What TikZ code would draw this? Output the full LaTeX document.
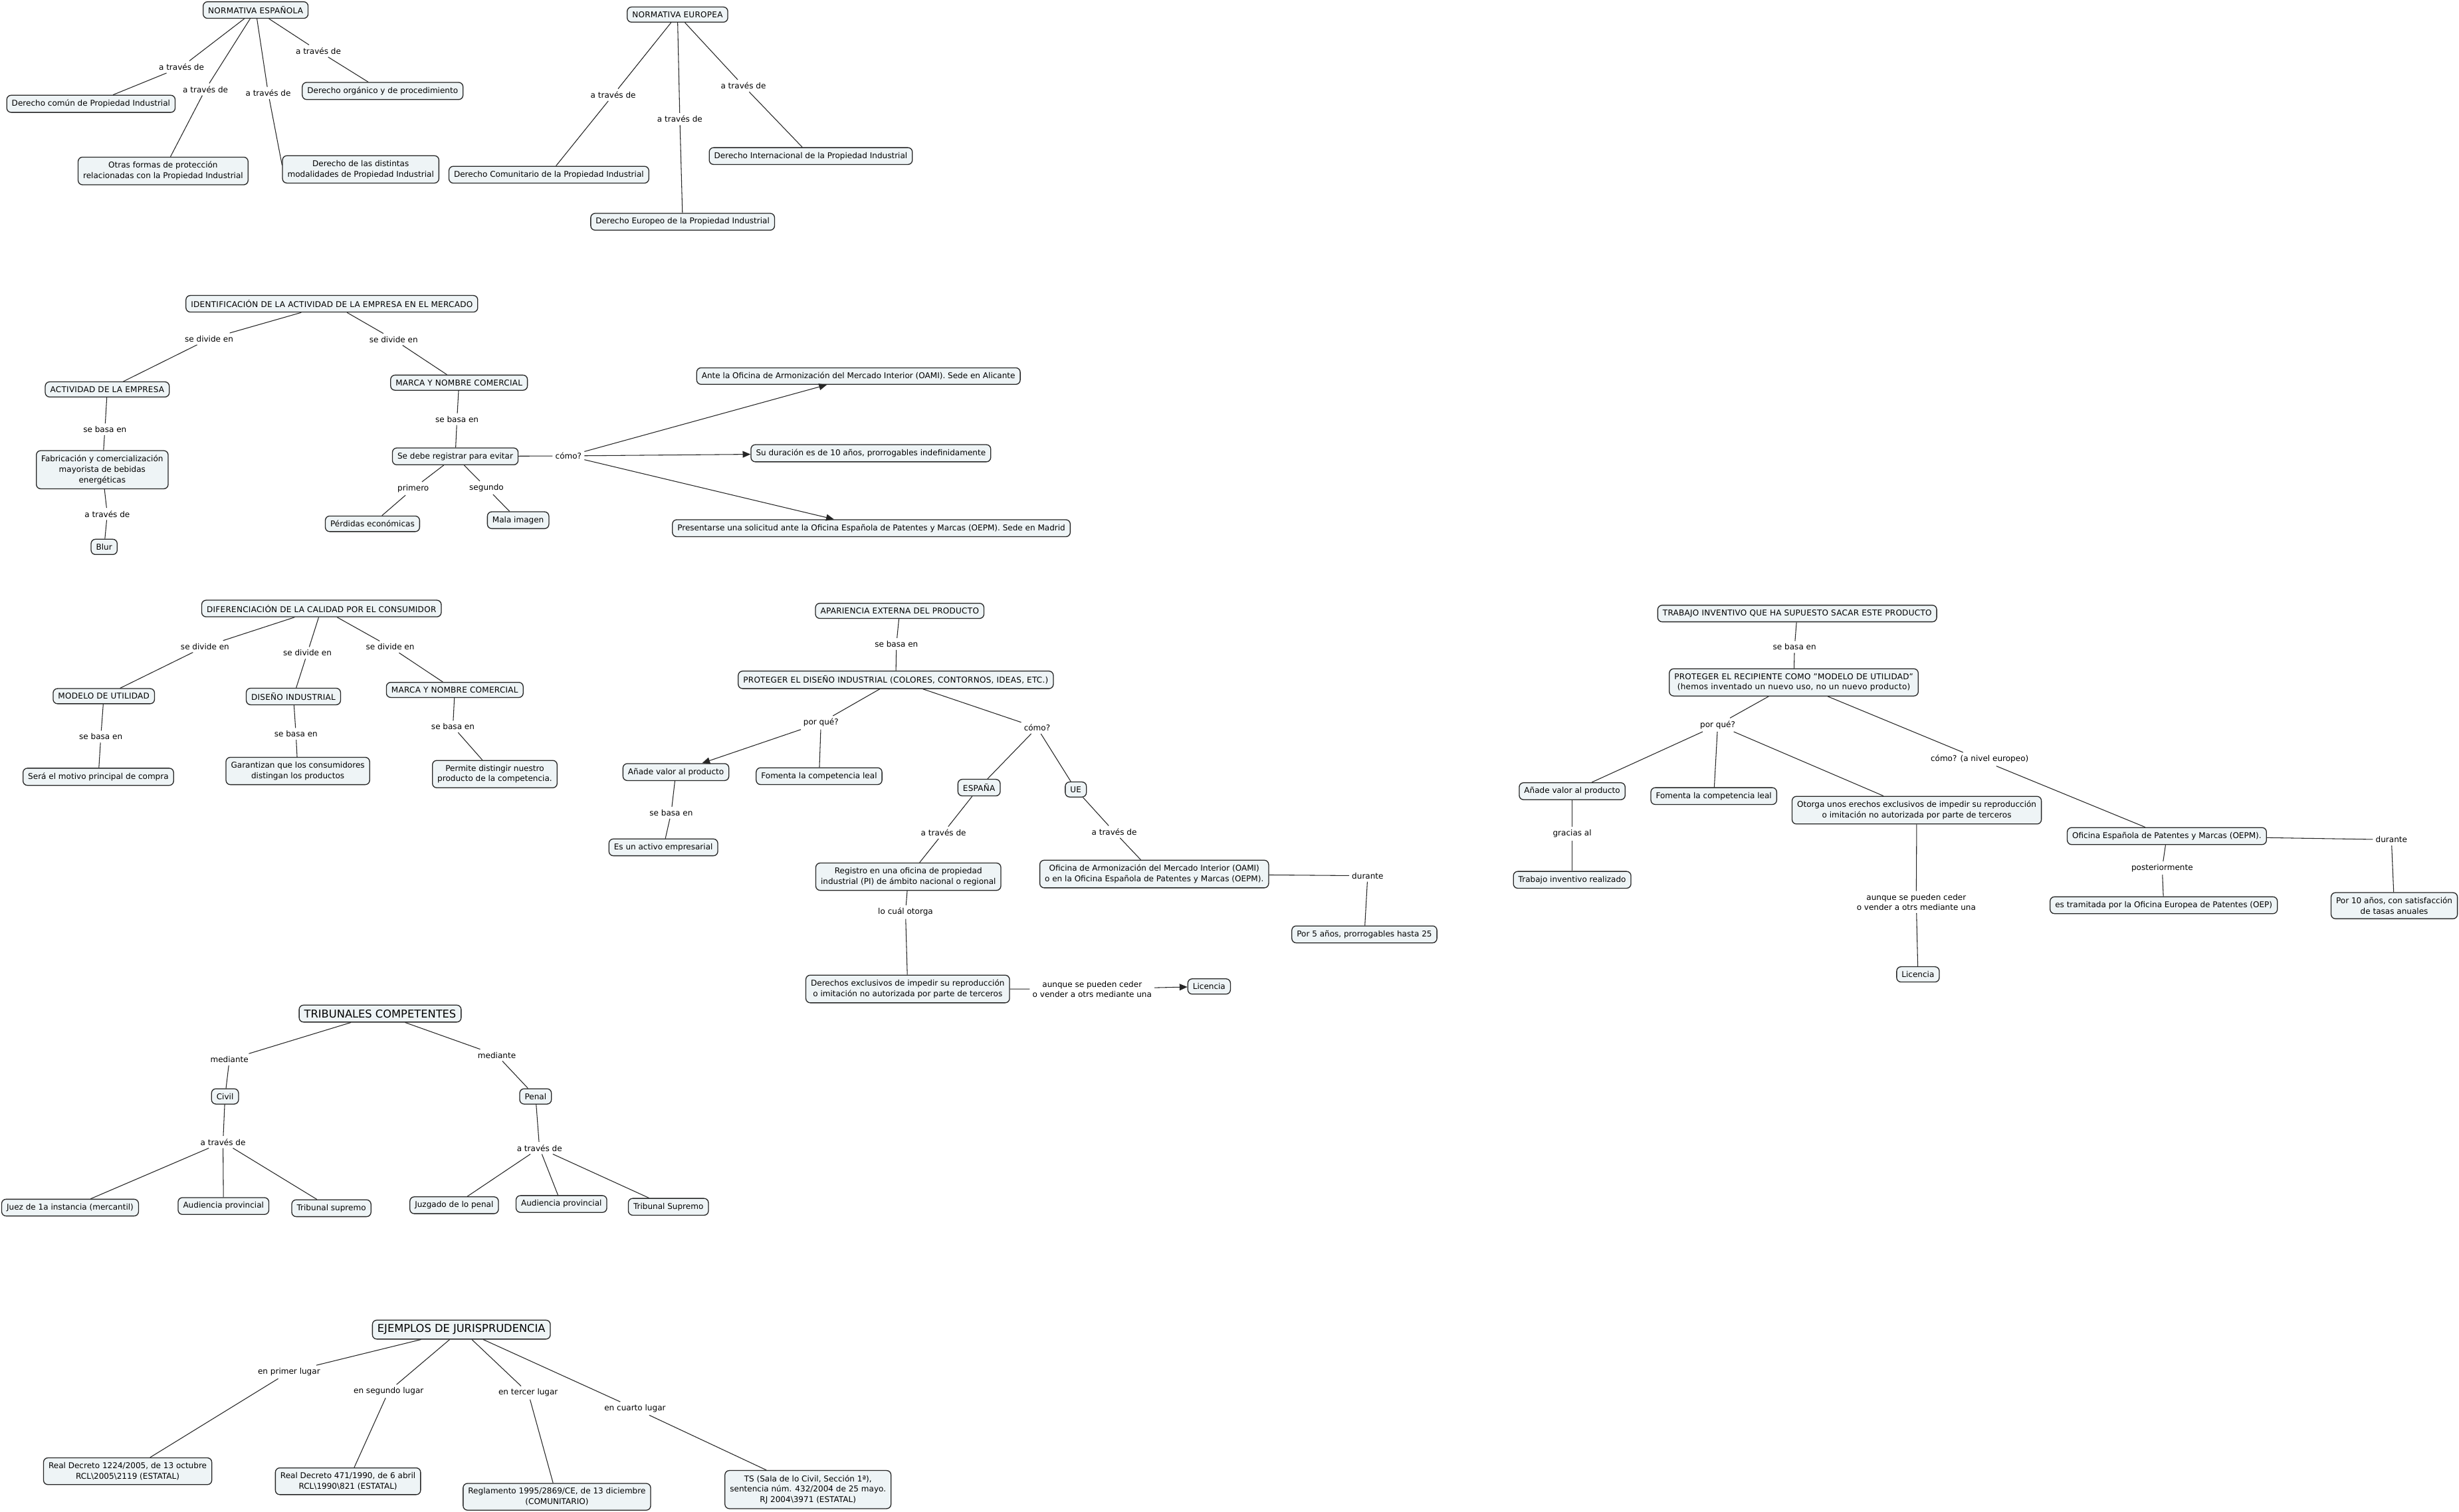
\documentclass[tikz,border=0pt]{standalone}
\usepackage{fontspec}
\setmainfont{DejaVu Sans}
\usetikzlibrary{arrows.meta}
\definecolor{boxfill}{RGB}{238,244,246}
\newcommand\mylink[3]{\draw[conn] (#1) -- (#2); \draw[conn] (#2) -- (#3);}
\newcommand\mylinka[3]{\draw[conn] (#1) -- (#2); \draw[arr] (#2) -- (#3);}
\begin{document}
\begin{tikzpicture}[x=1pt,y=-1pt,
  cbox/.style={draw=black!85, line width=0.55pt, fill=boxfill, rounded corners=2.8pt, inner xsep=3.2pt, inner ysep=2.9pt, align=center, font=\fontsize{5.1}{6.7}\selectfont},
  capbox/.style={cbox, font=\fontsize{5.1}{6.7}\selectfont\addfontfeature{LetterSpace=2.2}},
  tbox/.style={cbox, font=\fontsize{6.9}{8}\selectfont, inner ysep=2.8pt},
  lab/.style={inner sep=1.6pt, align=center, font=\fontsize{5.1}{6.5}\selectfont},
  conn/.style={draw=black!85, line width=0.45pt},
  arr/.style={conn, -{Triangle[length=5pt,width=4.2pt]}},
]
\useasboundingbox[fill=white] (0,0) rectangle (1568,964);

% ---------- Normativa espanola
\node[capbox] (ne) at (163,6.4) {NORMATIVA ESPAÑOLA};
\node[cbox] (comun) at (58,66.2) {Derecho común de Propiedad Industrial};
\node[cbox] (organico) at (244,58) {Derecho orgánico y de procedimiento};
\node[cbox] (otras) at (104,109) {Otras formas de protección\\relacionadas con la Propiedad Industrial};
\node[cbox] (distintas) at (230,108) {Derecho de las distintas\\modalidades de Propiedad Industrial};
\node[lab] (la1) at (115.7,42.7) {a través de};
\node[lab] (la2) at (131,57) {a través de};
\node[lab] (la3) at (171,59.3) {a través de};
\node[lab] (la4) at (203,32.5) {a través de};
\mylink{ne}{la1}{comun}
\mylink{ne}{la2}{otras}
\draw[conn] (ne) -- (la3); \draw[conn] (la3) -- (distintas.177);
\mylink{ne}{la4}{organico}

% ---------- Normativa europea
\node[capbox] (neu) at (432,9.3) {NORMATIVA EUROPEA};
\node[cbox] (comunit) at (350,111.4) {Derecho Comunitario de la Propiedad Industrial};
\node[cbox] (internac) at (517,99.5) {Derecho Internacional de la Propiedad Industrial};
\node[cbox] (europeo) at (435.3,141.4) {Derecho Europeo de la Propiedad Industrial};
\node[lab] (lb1) at (391,60.5) {a través de};
\node[lab] (lb2) at (433.5,75.9) {a través de};
\node[lab] (lb3) at (474,54.7) {a través de};
\mylink{neu}{lb1}{comunit}
\mylink{neu}{lb2}{europeo}
\mylink{neu}{lb3}{internac}

% ---------- Identificacion
\node[capbox] (ident) at (211.6,193.7) {IDENTIFICACIÓN DE LA ACTIVIDAD DE LA EMPRESA EN EL MERCADO};
\node[lab] (sd1) at (133.3,216.1) {se divide en};
\node[lab] (sd2) at (251,216.4) {se divide en};
\node[capbox] (activ) at (68.4,248.3) {ACTIVIDAD DE LA EMPRESA};
\node[capbox] (marca) at (292.7,244) {MARCA Y NOMBRE COMERCIAL};
\node[lab] (sb1) at (66.9,273.8) {se basa en};
\node[cbox] (fabric) at (65.2,299.5) {Fabricación y comercialización\\mayorista de bebidas\\energéticas};
\node[lab] (at1) at (68.4,327.7) {a través de};
\node[cbox] (blur) at (66.4,348.7) {Blur};
\node[lab] (sb2) at (291.4,267.3) {se basa en};
\node[cbox] (sedebe) at (290.3,291) {Se debe registrar para evitar};
\node[lab] (prim) at (263.5,311.5) {primero};
\node[lab] (seg) at (310.2,311) {segundo};
\node[cbox] (perd) at (237.5,334) {Pérdidas económicas};
\node[cbox] (mala) at (330.4,331.7) {Mala imagen};
\node[lab] (como1) at (362.5,290.7) {cómo?};
\node[cbox] (ante) at (547.4,239.8) {Ante la Oficina de Armonización del Mercado Interior (OAMI). Sede en Alicante};
\node[cbox] (sudur) at (555.3,289) {Su duración es de 10 años, prorrogables indefinidamente};
\node[cbox] (present) at (555.6,336.8) {Presentarse una solicitud ante la Oficina Española de Patentes y Marcas (OEPM). Sede en Madrid};
\mylink{ident}{sd1}{activ}
\mylink{ident}{sd2}{marca}
\mylink{activ}{sb1}{fabric}
\mylink{fabric}{at1}{blur}
\mylink{marca}{sb2}{sedebe}
\mylink{sedebe}{prim}{perd}
\mylink{sedebe}{seg}{mala}
\draw[conn] (sedebe) -- (como1);
\draw[arr] (como1) -- (ante);
\draw[arr] (como1) -- (sudur);
\draw[arr] (como1) -- (present);

% ---------- Diferenciacion
\node[capbox] (dif) at (205,388) {DIFERENCIACIÓN DE LA CALIDAD POR EL CONSUMIDOR};
\node[lab] (sdA) at (130.7,412.2) {se divide en};
\node[lab] (sdB) at (196,416.3) {se divide en};
\node[lab] (sdC) at (248.8,412.5) {se divide en};
\node[capbox] (modelo) at (66.2,443.9) {MODELO DE UTILIDAD};
\node[capbox] (diseno) at (187.1,444.1) {DISEÑO INDUSTRIAL};
\node[capbox] (marca2) at (290,439.9) {MARCA Y NOMBRE COMERCIAL};
\node[lab] (sbA) at (64.3,469.7) {se basa en};
\node[lab] (sbB) at (188.7,468) {se basa en};
\node[lab] (sbC) at (288.8,463.3) {se basa en};
\node[cbox] (sera) at (62.7,495.3) {Será el motivo principal de compra};
\node[cbox] (garant) at (189.9,491.6) {Garantizan que los consumidores\\distingan los productos};
\node[cbox] (permite) at (315.5,493.6) {Permite distingir nuestro\\producto de la competencia.};
\mylink{dif}{sdA}{modelo}
\mylink{dif}{sdB}{diseno}
\mylink{dif}{sdC}{marca2}
\mylink{modelo}{sbA}{sera}
\mylink{diseno}{sbB}{garant}
\mylink{marca2}{sbC}{permite}

% ---------- Apariencia externa
\node[capbox] (apar) at (573.7,389.5) {APARIENCIA EXTERNA DEL PRODUCTO};
\node[lab] (sbD) at (571.6,410.6) {se basa en};
\node[capbox] (protd) at (571.2,433.5) {PROTEGER EL DISEÑO INDUSTRIAL (COLORES, CONTORNOS, IDEAS, ETC.)};
\node[lab] (pq1) at (523.5,460.8) {por qué?};
\node[lab] (como2) at (661.3,464) {cómo?};
\node[cbox] (anade1) at (431,492.3) {Añade valor al producto};
\node[cbox] (fomenta1) at (522.3,494.9) {Fomenta la competencia leal};
\node[lab] (sbE) at (428,518.2) {se basa en};
\node[cbox] (activo) at (423,540.3) {Es un activo empresarial};
\node[capbox] (espana) at (624.3,502.2) {ESPAÑA};
\node[capbox] (ue) at (686,503.4) {UE};
\node[lab] (atE) at (601.6,530.9) {a través de};
\node[lab] (atU) at (710.5,530.4) {a través de};
\node[cbox] (registro) at (579.2,559) {Registro en una oficina de propiedad\\industrial (PI) de ámbito nacional o regional};
\node[cbox] (oami) at (736,557.3) {Oficina de Armonización del Mercado Interior (OAMI)\\o en la Oficina Española de Patentes y Marcas (OEPM).};
\node[lab] (dur1) at (872.1,558.4) {durante};
\node[cbox] (por5) at (870,595.8) {Por 5 años, prorrogables hasta 25};
\node[lab] (otorga) at (577.4,581.6) {lo cuál otorga};
\node[cbox] (derechos) at (578.8,630.6) {Derechos exclusivos de impedir su reproducción\\o imitación no autorizada por parte de terceros};
\node[lab] (aunque1) at (696.4,630.7) {aunque se pueden ceder\\o vender a otrs mediante una};
\node[cbox] (lic1) at (771,629) {Licencia};
\mylink{apar}{sbD}{protd}
\mylinka{protd}{pq1}{anade1}
\draw[conn] (pq1) -- (fomenta1);
\mylink{anade1}{sbE}{activo}
\mylink{protd}{como2}{espana}
\draw[conn] (como2) -- (ue);
\mylink{espana}{atE}{registro}
\mylink{ue}{atU}{oami}
\mylink{oami}{dur1}{por5}
\mylink{registro}{otorga}{derechos}
\mylinka{derechos}{aunque1}{lic1}

% ---------- Trabajo inventivo
\node[capbox] (trabajo) at (1146,391.2) {TRABAJO INVENTIVO QUE HA SUPUESTO SACAR ESTE PRODUCTO};
\node[lab] (sbF) at (1144.3,412.5) {se basa en};
\node[capbox] (protr) at (1143.8,435.1) {PROTEGER EL RECIPIENTE COMO "MODELO DE UTILIDAD"\\(hemos inventado un nuevo uso, no un nuevo producto)};
\node[lab] (pq2) at (1095.3,462.2) {por qué?};
\node[lab] (como3) at (1262.3,484.1) {cómo? (a nivel europeo)};
\node[cbox] (anade2) at (1002.5,504.5) {Añade valor al producto};
\node[cbox] (fomenta2) at (1092.8,507.6) {Fomenta la competencia leal};
\node[cbox] (otorgaB) at (1222.2,516.6) {Otorga unos erechos exclusivos de impedir su reproducción\\o imitación no autorizada por parte de terceros};
\node[lab] (gracias) at (1002.5,531.6) {gracias al};
\node[cbox] (trabr) at (1002.5,561) {Trabajo inventivo realizado};
\node[cbox] (oepm) at (1381.7,533.1) {Oficina Española de Patentes y Marcas (OEPM).};
\node[lab] (dur2) at (1524.9,535.4) {durante};
\node[lab] (post) at (1378.7,553.5) {posteriormente};
\node[cbox] (tramit) at (1379.7,577.2) {es tramitada por la Oficina Europea de Patentes (OEP)};
\node[cbox] (por10) at (1526.7,577.5) {Por 10 años, con satisfacción\\de tasas anuales};
\node[lab] (aunque2) at (1221.9,575.2) {aunque se pueden ceder\\o vender a otrs mediante una};
\node[cbox] (lic2) at (1223,621.3) {Licencia};
\mylink{trabajo}{sbF}{protr}
\mylink{protr}{pq2}{anade2}
\draw[conn] (pq2) -- (fomenta2);
\draw[conn] (pq2) -- (otorgaB);
\mylink{protr}{como3}{oepm}
\mylink{anade2}{gracias}{trabr}
\mylink{oepm}{dur2}{por10}
\mylink{oepm}{post}{tramit}
\mylink{otorgaB}{aunque2}{lic2}

% ---------- Tribunales
\node[tbox] (trib) at (242.4,646.3) {TRIBUNALES COMPETENTES};
\node[lab] (medL) at (146.3,675.6) {mediante};
\node[lab] (medR) at (316.8,672.8) {mediante};
\node[cbox] (civil) at (143.5,699.1) {Civil};
\node[cbox] (penal) at (341.5,699.1) {Penal};
\node[lab] (atC) at (142.2,728.2) {a través de};
\node[lab] (atP) at (344,732) {a través de};
\node[cbox] (juez) at (44.7,770) {Juez de 1a instancia (mercantil)};
\node[cbox] (audC) at (142.5,769) {Audiencia provincial};
\node[cbox] (tsupC) at (211.3,770.4) {Tribunal supremo};
\node[cbox] (juzg) at (289.6,768.5) {Juzgado de lo penal};
\node[cbox] (audP) at (358,767.7) {Audiencia provincial};
\node[cbox] (tsupP) at (426.2,769.5) {Tribunal Supremo};
\mylink{trib}{medL}{civil}
\mylink{trib}{medR}{penal}
\mylink{civil}{atC}{juez}
\draw[conn] (atC) -- (audC);
\draw[conn] (atC) -- (tsupC);
\mylink{penal}{atP}{juzg}
\draw[conn] (atP) -- (audP);
\draw[conn] (atP) -- (tsupP);

% ---------- Ejemplos
\node[tbox] (ejem) at (294.2,847.8) {EJEMPLOS DE JURISPRUDENCIA};
\node[lab] (epl) at (184.3,874.8) {en primer lugar};
\node[lab] (esl) at (247.8,887.1) {en segundo lugar};
\node[lab] (etl) at (336.8,888.1) {en tercer lugar};
\node[lab] (ecl) at (404.9,898.1) {en cuarto lugar};
\node[cbox] (rd1) at (81.4,938.1) {Real Decreto 1224/2005, de 13 octubre\\RCL\textbackslash 2005\textbackslash 2119 (ESTATAL)};
\node[cbox] (rd2) at (221.9,944.5) {Real Decreto 471/1990, de 6 abril\\RCL\textbackslash 1990\textbackslash 821 (ESTATAL)};
\node[cbox] (regl) at (355.1,954.4) {Reglamento 1995/2869/CE, de 13 diciembre\\(COMUNITARIO)};
\node[cbox] (ts) at (515.2,949.8) {TS (Sala de lo Civil, Sección 1ª),\\sentencia núm. 432/2004 de 25 mayo.\\RJ 2004\textbackslash 3971 (ESTATAL)};
\mylink{ejem}{epl}{rd1}
\mylink{ejem}{esl}{rd2}
\mylink{ejem}{etl}{regl}
\mylink{ejem}{ecl}{ts}
\end{tikzpicture}
\end{document}
